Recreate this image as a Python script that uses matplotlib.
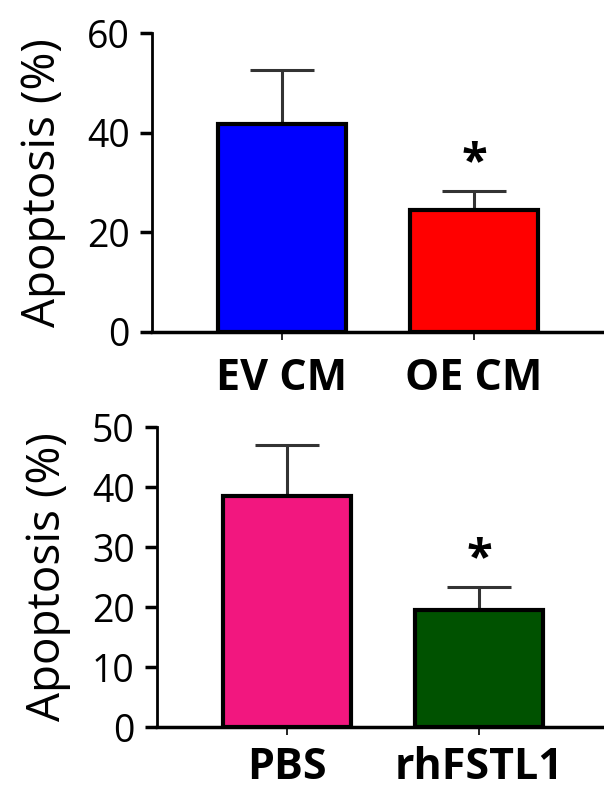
import matplotlib
matplotlib.use("Agg")
import matplotlib.pyplot as plt
import numpy as np

plt.rcParams['font.family'] = ['Open Sans', 'DejaVu Sans']

# panel A: conditioned medium
groups_a = ['EV CM', 'OE CM']
means_a = [41.8, 24.4]
err_a = [10.8, 3.8]
colors_a = ['#0000ff', '#ff0000']

# panel B: recombinant protein
groups_b = ['PBS', 'rhFSTL1']
means_b = [38.5, 19.5]
err_b = [8.5, 3.8]
colors_b = ['#f2177f', '#005200']

sig_a = [False, True]
sig_b = [False, True]


def bar_panel(ax, groups, means, errs, colors, sig, ymax, step, xpad):
    x = np.arange(len(groups))
    ax.bar(x, means, width=0.667, color=colors, edgecolor='black',
           linewidth=3, zorder=2)
    ax.errorbar(x, means, yerr=[np.zeros(len(errs)), errs], fmt='none',
                ecolor='#333333', elinewidth=2.2, capsize=23, capthick=2.2,
                zorder=1)
    for xi, m, e, s in zip(x, means, errs, sig):
        if s:
            ax.annotate('*', (xi, m + e), xytext=(0, 3),
                        textcoords='offset points', ha='center', va='bottom',
                        fontsize=34, fontweight='bold')
    ax.set_xlim(-0.677, 1.677)
    ax.set_ylim(0, ymax)
    ax.set_yticks(np.arange(0, ymax + 1, step))
    ax.set_xticks(x)
    ax.set_xticklabels(groups, fontsize=31, fontweight='bold')
    ax.tick_params(axis='y', length=9, width=2.5, labelsize=27, pad=7)
    ax.tick_params(axis='x', length=6, width=1.2, pad=xpad)
    for side in ['top', 'right']:
        ax.spines[side].set_visible(False)
    ax.spines['left'].set_linewidth(2)
    ax.spines['bottom'].set_linewidth(2.5)
    ax.set_ylabel('Apoptosis (%)', fontsize=33)
    ax.yaxis.set_label_coords(-0.19, 0.5)


fig = plt.figure(figsize=(6.04, 7.91), dpi=100)
ax1 = fig.add_axes([152 / 604, 459 / 791, 452 / 604, 299 / 791])
ax2 = fig.add_axes([157 / 604, 64 / 791, 452 / 604, 300 / 791])

bar_panel(ax1, groups_a, means_a, err_a, colors_a, sig_a, 60, 20, 12)
bar_panel(ax2, groups_b, means_b, err_b, colors_b, sig_b, 50, 10, 8)

fig.savefig('out.png', dpi=100)
